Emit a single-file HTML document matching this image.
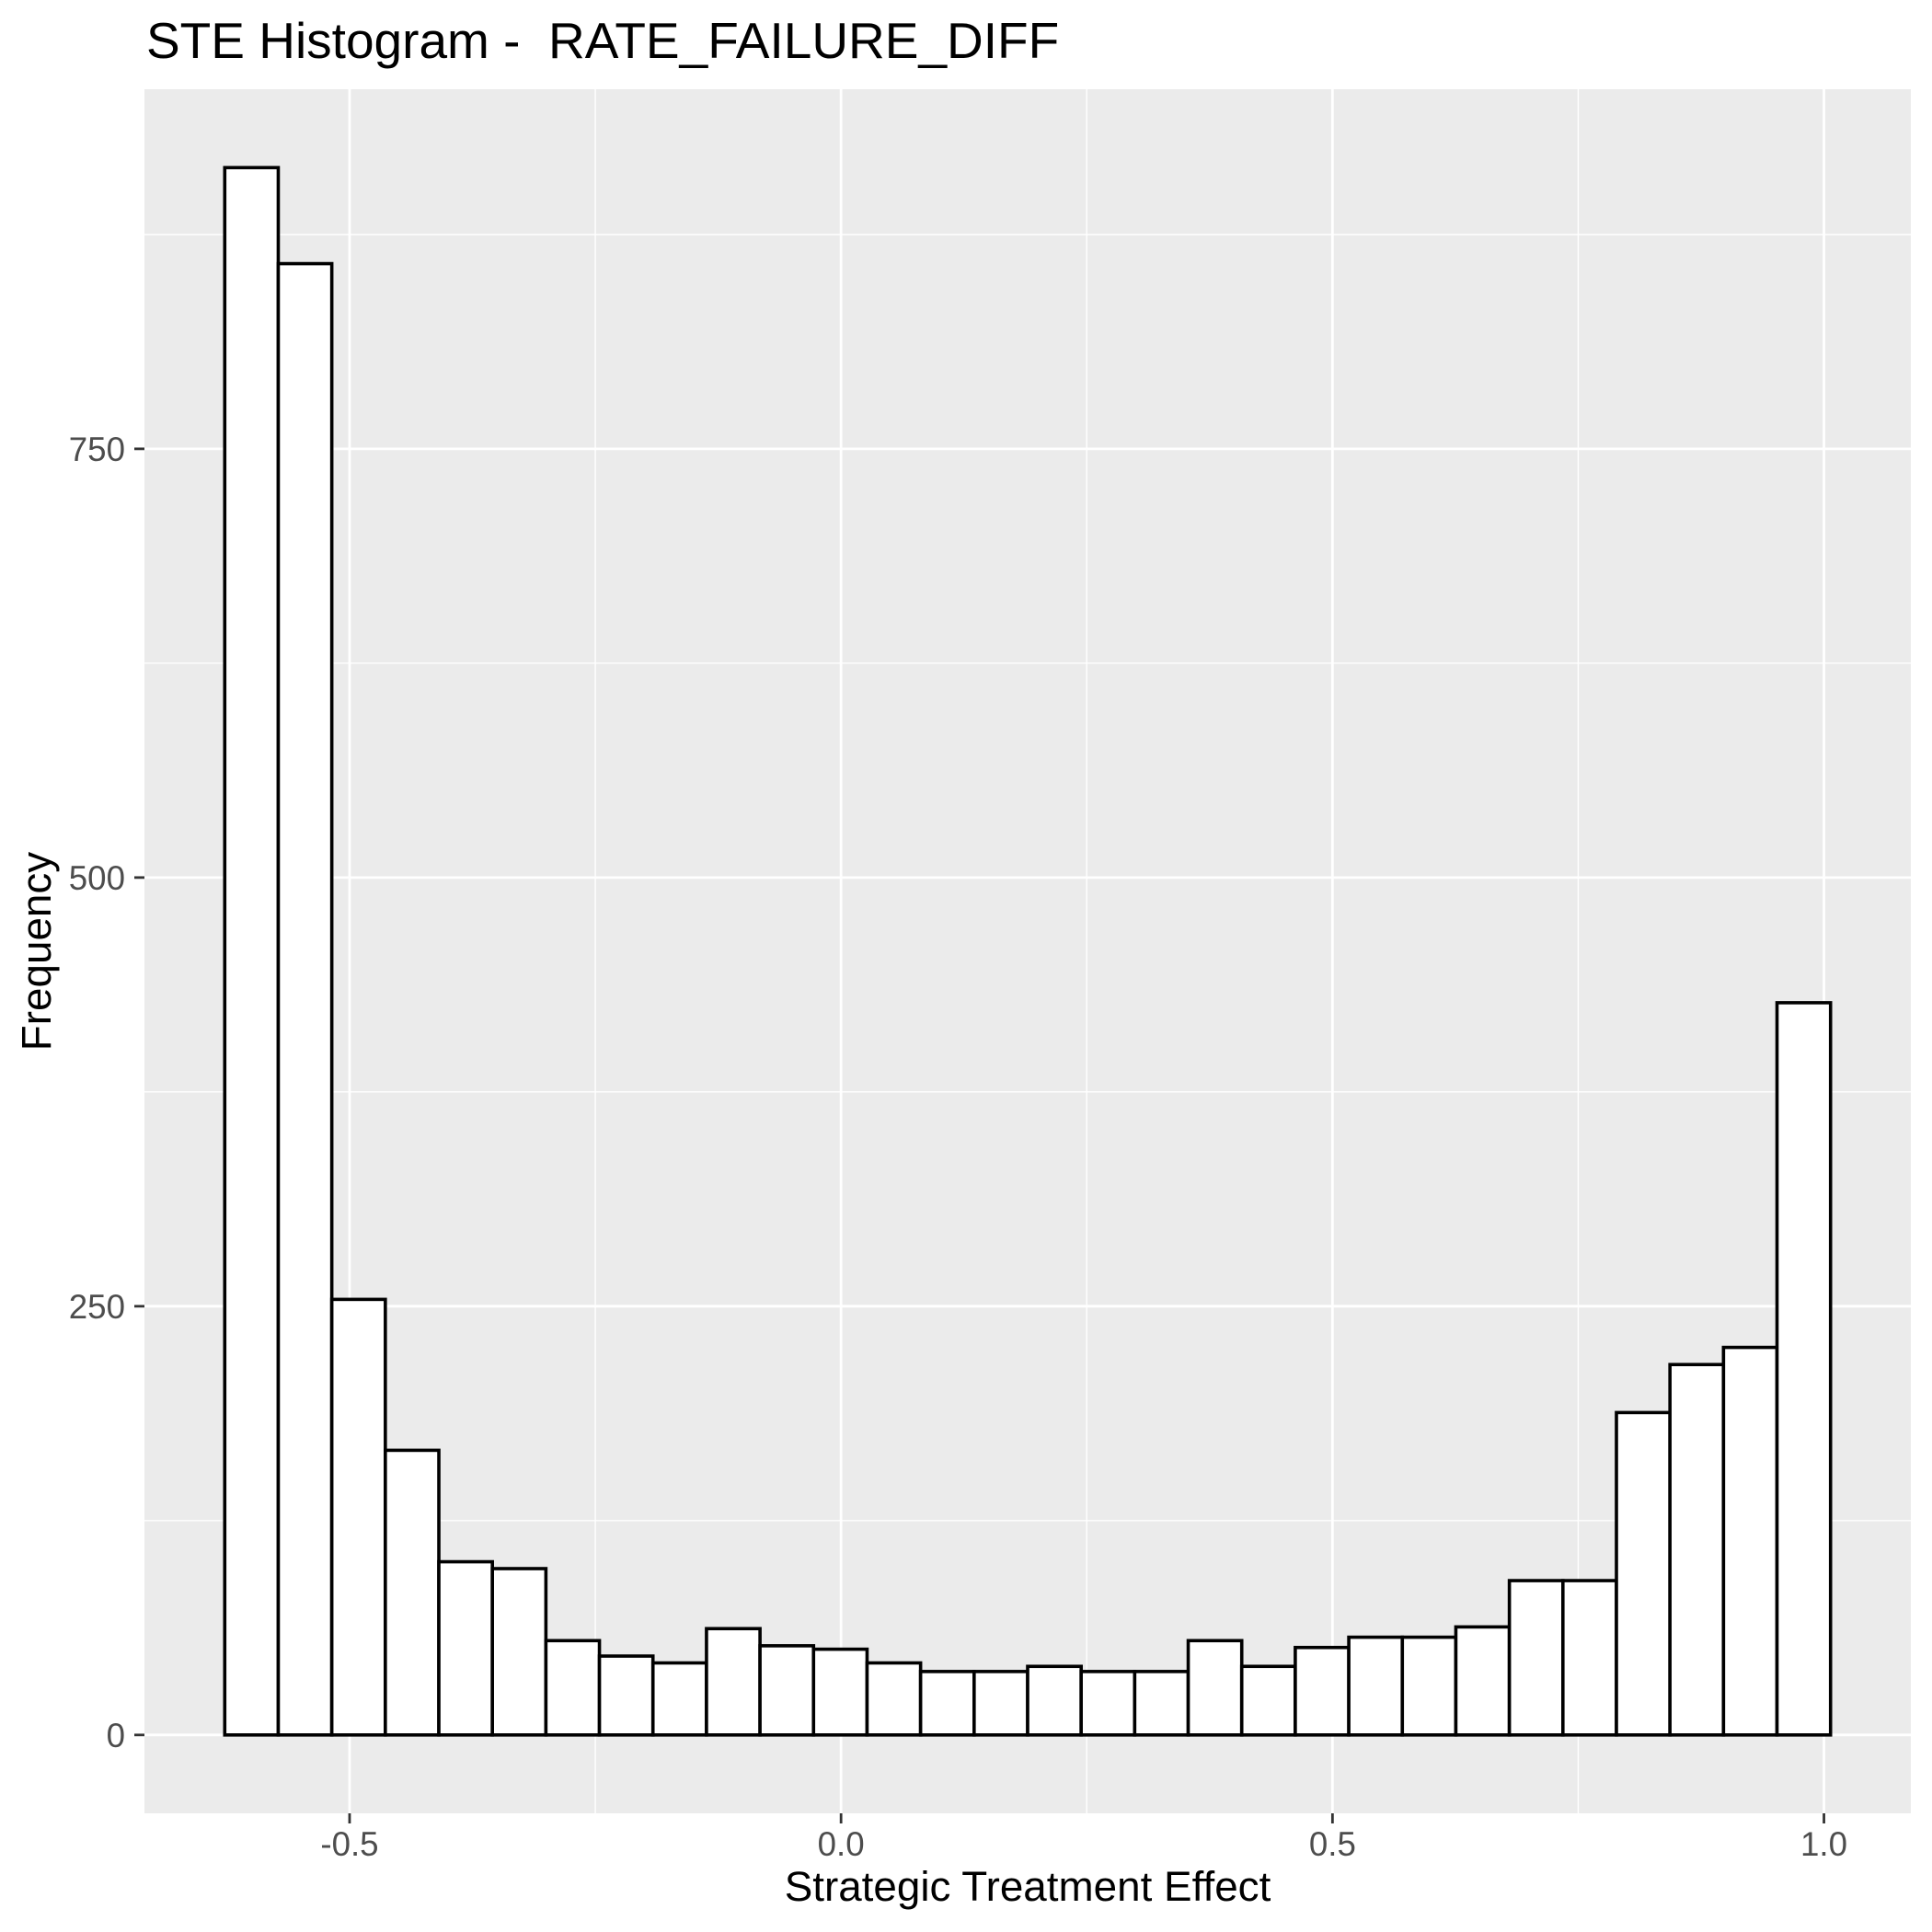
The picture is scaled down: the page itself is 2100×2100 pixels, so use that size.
<!DOCTYPE html>
<html><head><meta charset="utf-8"><style>html,body{margin:0;padding:0;background:#fff}svg{display:block}</style></head>
<body>
<svg id="chart" width="2100" height="2100" xmlns="http://www.w3.org/2000/svg" font-family="Liberation Sans, Arial, sans-serif">
<rect width="2100" height="2100" fill="#fff"/>
<text x="159" y="63" font-size="55" fill="#000">STE Histogram -&#160; RATE_FAILURE_DIFF</text>
<rect x="157" y="97" width="1920" height="1874" fill="#ebebeb"/>
<g id="grid"></g>
<g id="bars"></g>
<g id="axes"></g>
<text x="1117" y="2066" font-size="45.8" text-anchor="middle" fill="#000">Strategic Treatment Effect</text>
<text transform="translate(55,1034) rotate(-90)" font-size="45.8" text-anchor="middle" fill="#000">Frequency</text>
</svg>
<script>
const counts = [914,858,254,166,101,97,55,46,42,62,52,50,42,37,37,40,37,37,55,40,51,57,57,63,90,90,188,216,226,427];
const binStart = -0.627;
const binEnd = 1.0067;
const xTicks = [-0.5, 0.0, 0.5, 1.0];
const xTickLabels = ["-0.5","0.0","0.5","1.0"];
const xMinor = [-0.25, 0.25, 0.75];
const yTicks = [0, 250, 500, 750];
const yTickLabels = ["0","250","500","750"];
const yMinor = [125, 375, 625, 875];

const NS = "http://www.w3.org/2000/svg";
const PL = 157, PR = 2077, PT = 97, PB = 1971;
const xLo = -0.7087, xHi = 1.0884;
const yMax = Math.max(...counts);
const yLo = -0.05 * yMax, yHi = yMax * 1.05;
const xs = v => PL + (v - xLo) / (xHi - xLo) * (PR - PL);
const ys = v => PB - (v - yLo) / (yHi - yLo) * (PB - PT);
function mk(tag, attrs, parent) {
  const e = document.createElementNS(NS, tag);
  for (const k in attrs) e.setAttribute(k, attrs[k]);
  parent.appendChild(e);
  return e;
}
const grid = document.getElementById('grid');
const bars = document.getElementById('bars');
const axes = document.getElementById('axes');
xMinor.forEach(v => {
  const l = mk('line', {x1: xs(v), x2: xs(v), y1: PT, y2: PB, stroke: '#fff', 'stroke-width': 1.4}, grid);
  
  
});
yMinor.forEach(v => {
  const l = mk('line', {x1: PL, x2: PR, y1: ys(v), y2: ys(v), stroke: '#fff', 'stroke-width': 1.4}, grid);
  
  
});
xTicks.forEach((v, i) => {
  const l = mk('line', {x1: xs(v), x2: xs(v), y1: PT, y2: PB, stroke: '#fff', 'stroke-width': 2.8}, grid);
  
  
  const t = mk('line', {x1: xs(v), x2: xs(v), y1: PB, y2: PB + 11, stroke: '#333', 'stroke-width': 2.8}, axes);
  
  
  const tx = mk('text', {x: xs(v), y: 2017, 'font-size': 36.7, 'text-anchor': 'middle', fill: '#4d4d4d'}, axes);
  tx.textContent = xTickLabels[i];
  
  
});
yTicks.forEach((v, i) => {
  const l = mk('line', {x1: PL, x2: PR, y1: ys(v), y2: ys(v), stroke: '#fff', 'stroke-width': 2.8}, grid);
  
  
  const t = mk('line', {x1: PL - 11, x2: PL, y1: ys(v), y2: ys(v), stroke: '#333', 'stroke-width': 2.8}, axes);
  
  
  const tx = mk('text', {x: 136, y: ys(v) + 13, 'font-size': 36.7, 'text-anchor': 'end', fill: '#4d4d4d'}, axes);
  tx.textContent = yTickLabels[i];
  
  
});
const bw = (binEnd - binStart) / counts.length;
counts.forEach((c, i) => {
  const x0 = xs(binStart + i * bw), x1 = xs(binStart + (i + 1) * bw);
  const r = mk('rect', {x: x0, y: ys(c), width: x1 - x0, height: ys(0) - ys(c), fill: '#fff', stroke: '#000', 'stroke-width': 3.6}, bars);
  
  
});
</script>
</body></html>
